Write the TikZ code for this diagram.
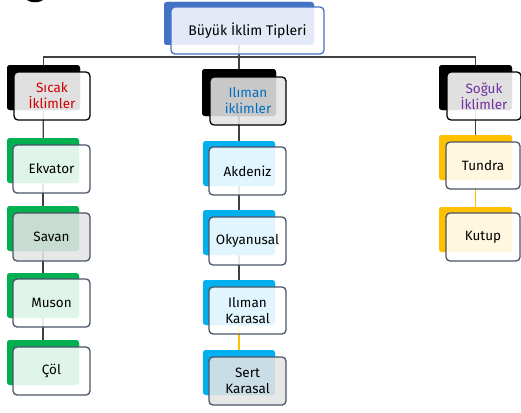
\documentclass[tikz,border=0pt]{standalone}
\usepackage{fontspec}
\setmainfont{Fira Sans}
\definecolor{cgreen}{HTML}{00B050}
\definecolor{cblue}{HTML}{00B0F0}
\definecolor{cyellow}{HTML}{FFC000}
\definecolor{ctop}{HTML}{4472C4}
\definecolor{frameC}{HTML}{4A5568}
\definecolor{lineC}{HTML}{404040}
\definecolor{tred}{HTML}{D00000}
\definecolor{tblue}{HTML}{0070C0}
\definecolor{tpurple}{HTML}{7030A0}
\definecolor{lgray}{HTML}{E4E4E4}
\begin{document}
\begin{tikzpicture}[x=1pt,y=-1pt,
  back/.style={anchor=north west, inner sep=0pt, outer sep=0pt, rounded corners=3pt, minimum width=72pt, minimum height=45pt},
  front/.style={anchor=north west, inner sep=0pt, outer sep=0pt, rounded corners=4pt, draw=frameC, line width=1.3pt, fill=white, fill opacity=0.88, text opacity=1, align=center, minimum width=77pt, minimum height=48pt, font=\fontsize{13.5}{16}\selectfont},
  conn/.style={draw=lineC, line width=1.2pt},
  yconn/.style={draw=cyellow, line width=1.2pt}]
\useasboundingbox (0,0) rectangle (521,412);
\begin{scope}
\clip (0,0) rectangle (521,412);
\draw[line width=2.5pt] (35,-11) ellipse [x radius=14pt, y radius=12pt];
\end{scope}
\coordinate (bus) at (239,57);
% back boxes
\node[back, fill=ctop, minimum width=150pt, minimum height=43pt] (topB) at (164,2) {};
\node[back, fill=black, minimum width=73pt] (sicB) at (7,65) {};
\node[back, fill=black, minimum width=74pt, minimum height=47pt] (ilmB) at (202,69) {};
\node[back, fill=black, minimum width=73pt] (sogB) at (439,65) {};
\node[back, fill=cgreen] (ekvB) at (7,138) {};
\node[back, fill=cgreen] (savB) at (7,206) {};
\node[back, fill=cgreen] (musB) at (7,273) {};
\node[back, fill=cgreen] (colB) at (7,340) {};
\node[back, fill=cblue] (akdB) at (203,141) {};
\node[back, fill=cblue] (okyB) at (203,210) {};
\node[back, fill=cblue] (ikaB) at (203,280) {};
\node[back, fill=cblue] (serB) at (203,350) {};
\node[back, fill=cyellow, minimum width=73pt] (tunB) at (439,135) {};
\node[back, fill=cyellow, minimum width=73pt] (kutB) at (439,207) {};
% connectors
\draw[conn] (topB.center) -- (ilmB.center);
\draw[conn] (sicB.center) |- (bus) -| (sogB.center);
\draw[conn] (sicB.center) -- (ekvB.center);
\draw[conn] (ekvB.center) -- (savB.center);
\draw[conn] (savB.center) -- (musB.center);
\draw[conn] (musB.center) -- (colB.center);
\draw[conn] (ilmB.center) -- (akdB.center);
\draw[conn] (akdB.center) -- (okyB.center);
\draw[conn] (okyB.center) -- (ikaB.center);
\draw[yconn] (ikaB.center) -- (serB.center);
\draw[conn] (sogB.center) -- (tunB.center);
\draw[yconn] (tunB.center) -- (kutB.center);
% redraw back boxes over connectors
\foreach \n/\c in {topB/ctop,sicB/black,ilmB/black,sogB/black,ekvB/cgreen,savB/cgreen,musB/cgreen,colB/cgreen,akdB/cblue,okyB/cblue,ikaB/cblue,serB/cblue,tunB/cyellow,kutB/cyellow}
  \fill[\c, rounded corners=3pt] (\n.north west) rectangle (\n.south east);
% front boxes
\node[front, draw=ctop, fill opacity=0.85, minimum width=153pt, minimum height=47pt, font=\fontsize{14}{16}\selectfont] (top) at (171,7) {Büyük İklim Tipleri};
\node[front, draw=black, minimum width=76pt, text=tred] (sic) at (14,72) {Sıcak\\İklimler};
\node[front, draw=black, fill=lgray, minimum width=76pt, text=tblue] (ilm) at (210,77) {Ilıman\\iklimler};
\node[front, draw=black, minimum width=74pt, text=tpurple] (sog) at (447,72) {Soğuk\\İklimler};
\node[front] (ekv) at (13,145) {Ekvator};
\node[front, fill=lgray] (sav) at (13,213) {Savan};
\node[front] (mus) at (13,279) {Muson};
\node[front] (col) at (13,347) {Çöl};
\node[front] (akd) at (209,147) {Akdeniz};
\node[front] (oky) at (209,217) {Okyanusal};
\node[front, minimum height=47pt] (ika) at (209,287) {Ilıman\\Karasal};
\node[front, fill=lgray] (ser) at (209,357) {Sert\\Karasal};
\node[front, minimum width=74pt, minimum height=47pt] (tun) at (446,142) {Tundra};
\node[front, minimum width=74pt] (kut) at (446,213) {Kutup};
\end{tikzpicture}
\end{document}
